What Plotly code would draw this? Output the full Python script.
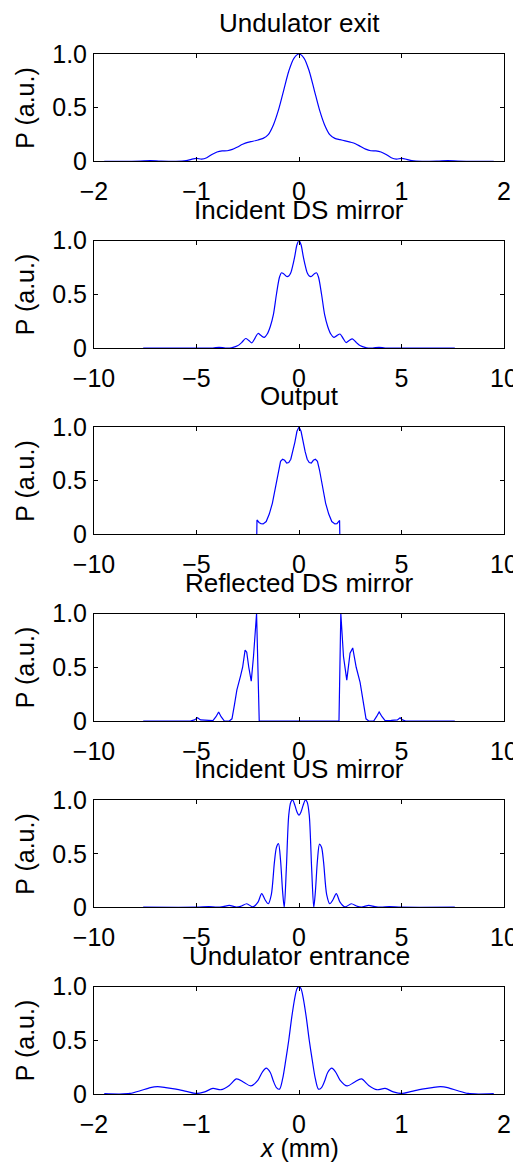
import plotly.graph_objects as go
from plotly.subplots import make_subplots

# panel titles, top to bottom
titles = ['Undulator exit', 'Incident DS mirror', 'Output',
          'Reflected DS mirror', 'Incident US mirror', 'Undulator entrance']

# transverse position x (mm) and normalised power P (a.u.)
exit_x = [-1.9, -1.7, -1.55, -1.45, -1.35, -1.2, -1.1, -1.05, -1.0, -0.95, -0.9, -0.85,
          -0.8, -0.75, -0.7, -0.65, -0.6, -0.55, -0.5, -0.45, -0.4, -0.35, -0.3, -0.25,
          -0.2, -0.15, -0.1, -0.05, 0.0, 0.05, 0.1, 0.15, 0.2, 0.25, 0.3, 0.35, 0.4,
          0.45, 0.5, 0.55, 0.6, 0.65, 0.7, 0.75, 0.8, 0.85, 0.9, 0.95, 1.0, 1.05, 1.1,
          1.2, 1.35, 1.45, 1.55, 1.7, 1.9]
exit_p = [0.0, 0.001, 0.004, 0.007, 0.003, 0.001, 0.008, 0.02, 0.028, 0.022, 0.035, 0.065,
          0.088, 0.098, 0.1, 0.112, 0.135, 0.16, 0.178, 0.188, 0.2, 0.215, 0.25, 0.34,
          0.48, 0.66, 0.84, 0.96, 1.0, 0.96, 0.84, 0.66, 0.48, 0.34, 0.25, 0.215, 0.203,
          0.192, 0.18, 0.165, 0.14, 0.115, 0.1, 0.098, 0.088, 0.065, 0.035, 0.022, 0.028,
          0.02, 0.008, 0.001, 0.003, 0.007, 0.004, 0.001, 0.0]

ds_inc_x = [-7.6, -5.0, -4.2, -3.9, -3.6, -3.3, -3.0, -2.8, -2.6, -2.45, -2.3, -2.15, -2.0,
            -1.85, -1.7, -1.55, -1.4, -1.25, -1.1, -0.95, -0.85, -0.75, -0.6, -0.5, -0.4,
            -0.3, -0.2, -0.1, 0.0, 0.1, 0.2, 0.3, 0.4, 0.5, 0.6, 0.75, 0.85, 0.95, 1.1,
            1.25, 1.4, 1.55, 1.7, 1.85, 2.0, 2.15, 2.3, 2.45, 2.6, 2.8, 3.0, 3.3, 3.6,
            3.9, 4.2, 5.0, 7.6]
ds_inc_p = [0.0, 0.0, 0.0, 0.006, 0.0, 0.002, 0.02, 0.05, 0.088, 0.07, 0.048, 0.09, 0.135,
            0.115, 0.098, 0.13, 0.2, 0.31, 0.5, 0.66, 0.7, 0.69, 0.665, 0.67, 0.7, 0.77,
            0.86, 0.96, 1.0, 0.96, 0.86, 0.77, 0.7, 0.67, 0.665, 0.69, 0.7, 0.66, 0.5,
            0.31, 0.2, 0.13, 0.098, 0.115, 0.13, 0.09, 0.05, 0.07, 0.085, 0.05, 0.02,
            0.002, 0.0, 0.006, 0.0, 0.0, 0.0]

out_x = [-7.6, -2.06, -2.05, -1.95, -1.85, -1.75, -1.6, -1.45, -1.3, -1.15, -1.0, -0.9,
         -0.8, -0.7, -0.6, -0.5, -0.4, -0.3, -0.2, -0.1, 0.0, 0.1, 0.2, 0.3, 0.4, 0.5,
         0.6, 0.7, 0.8, 0.9, 1.0, 1.15, 1.3, 1.45, 1.6, 1.75, 1.85, 1.93, 1.98, 1.99, 7.6]
out_p = [0.0, 0.0, 0.135, 0.112, 0.1, 0.098, 0.12, 0.19, 0.29, 0.45, 0.6, 0.68,
         0.7, 0.69, 0.665, 0.67, 0.7, 0.77, 0.86, 0.96, 1.0, 0.96, 0.86, 0.77, 0.7, 0.67,
         0.665, 0.69, 0.7, 0.68, 0.6, 0.45, 0.29, 0.19, 0.12, 0.098, 0.1, 0.12, 0.13, 0.0, 0.0]

ds_ref_x = [-7.6, -5.3, -5.1, -4.95, -4.8, -4.5, -4.2, -4.05, -3.92, -3.8, -3.65, -3.4,
            -3.27, -3.15, -3.03, -2.85, -2.75, -2.63, -2.55, -2.45, -2.33, -2.22, -2.07,
            -1.94, 1.95, 2.04, 2.17, 2.33, 2.49, 2.62, 2.79, 2.98, 3.14, 3.27, 3.4, 3.65,
            3.78, 3.91, 4.05, 4.2, 4.5, 4.8, 4.93, 5.05, 5.2, 7.6]
ds_ref_p = [0.0, 0.0, 0.01, 0.03, 0.01, 0.005, 0.003, 0.04, 0.084, 0.04, 0.002, 0.0,
            0.02, 0.15, 0.29, 0.42, 0.5, 0.66, 0.64, 0.5, 0.37, 0.6, 1.0,
            0.0, 0.0, 1.0, 0.6, 0.38, 0.63, 0.68, 0.5, 0.36, 0.16, 0.02, 0.0, 0.002,
            0.04, 0.084, 0.04, 0.003, 0.005, 0.01, 0.03, 0.01, 0.0, 0.0]

us_inc_x = [-7.6, -5.0, -4.4, -4.0, -3.7, -3.4, -3.1, -2.85, -2.55, -2.25, -2.0, -1.82,
            -1.65, -1.5, -1.35, -1.2, -1.1, -1.0, -0.9, -0.8, -0.72, -0.62, -0.5, -0.4,
            -0.31, -0.2, -0.1, 0.0, 0.1, 0.2, 0.31, 0.4, 0.5, 0.62, 0.72, 0.8, 0.9, 1.0,
            1.1, 1.2, 1.35, 1.5, 1.65, 1.82, 2.0, 2.25, 2.55, 2.85, 3.1, 3.4, 3.7, 4.0,
            4.4, 5.0, 7.6]
us_inc_p = [0.003, 0.003, 0.008, 0.003, 0.008, 0.02, 0.005, 0.01, 0.035, 0.005, 0.05, 0.13,
            0.07, 0.035, 0.12, 0.42, 0.56, 0.595, 0.44, 0.15, 0.0, 0.35, 0.86, 0.98,
            1.0, 0.95, 0.89, 0.86, 0.89, 0.95, 1.0, 0.98, 0.86, 0.35, 0.0, 0.15, 0.44, 0.59,
            0.56, 0.42, 0.12, 0.035, 0.07, 0.13, 0.05, 0.005, 0.035, 0.01, 0.005, 0.02, 0.008,
            0.003, 0.008, 0.003, 0.003]

entr_x = [-1.9, -1.75, -1.65, -1.55, -1.45, -1.38, -1.3, -1.2, -1.1, -1.0, -0.92, -0.84,
          -0.76, -0.68, -0.61, -0.54, -0.47, -0.4, -0.36, -0.32, -0.28, -0.25, -0.22,
          -0.19, -0.16, -0.13, -0.1, -0.07, -0.04, -0.02, 0.0, 0.02, 0.04, 0.07, 0.1,
          0.13, 0.16, 0.19, 0.22, 0.25, 0.28, 0.32, 0.36, 0.4, 0.47, 0.54, 0.61, 0.68,
          0.76, 0.84, 0.92, 1.0, 1.1, 1.2, 1.3, 1.38, 1.45, 1.55, 1.65, 1.75, 1.9]
entr_p = [0.003, 0.0, 0.005, 0.03, 0.06, 0.068, 0.06, 0.045, 0.025, 0.005, 0.02, 0.052,
          0.04, 0.08, 0.14, 0.11, 0.075, 0.13, 0.2, 0.24, 0.2, 0.12, 0.06,
          0.045, 0.14, 0.31, 0.5, 0.72, 0.9, 0.98, 1.0, 0.98, 0.9, 0.72, 0.5,
          0.31, 0.14, 0.045, 0.06, 0.12, 0.2, 0.24, 0.2, 0.13, 0.075, 0.11, 0.14, 0.08,
          0.04, 0.052, 0.02, 0.005, 0.025, 0.045, 0.06, 0.068, 0.06, 0.03, 0.005, 0.0, 0.003]

xs = [exit_x, ds_inc_x, out_x, ds_ref_x, us_inc_x, entr_x]
ps = [exit_p, ds_inc_p, out_p, ds_ref_p, us_inc_p, entr_p]
shapes = ['spline', 'spline', 'linear', 'linear', 'spline', 'spline']

short_ticks = [-2, -1, 0, 1, 2]
long_ticks = [-10, -5, 0, 5, 10]
x_ticks = [short_ticks, long_ticks, long_ticks, long_ticks, long_ticks, short_ticks]
p_ticks = [0, 0.5, 1]
p_ticktext = ['0', '0.5', '1.0']

FONT = 'Liberation Sans, Arial, sans-serif'

fig = make_subplots(rows=6, cols=1, vertical_spacing=0.076)

for i in range(6):
    row = i + 1
    fig.add_trace(go.Scatter(
        x=xs[i], y=ps[i], mode='lines',
        line=dict(color='#0000ff', width=1.2, shape=shapes[i], smoothing=0.8),
        showlegend=False,
    ), row=row, col=1)
    ticks = x_ticks[i]
    fig.update_xaxes(
        range=[ticks[0], ticks[-1]],
        tickvals=ticks,
        ticktext=[str(t).replace('-', '\u2212') for t in ticks],
        row=row, col=1,
    )
    fig.update_yaxes(range=[0, 1], tickvals=p_ticks, ticktext=p_ticktext, row=row, col=1)

    yref = 'y%s domain' % ('' if row == 1 else row)
    fig.add_annotation(
        text=titles[i], xref='paper', x=0.5, yref=yref,
        y=1, yanchor='bottom', yshift=14, showarrow=False,
        font=dict(family=FONT, size=26, color='black'),
    )
    fig.add_annotation(
        text='P (a.u.)', xref='paper', x=0, xanchor='center', xshift=-69,
        yref=yref, y=0.5, yanchor='middle',
        textangle=-90, showarrow=False,
        font=dict(family=FONT, size=25, color='black'),
    )

fig.add_annotation(
    text='<i>x</i> (mm)', xref='paper', x=0.5, yref='y6 domain', y=0,
    yanchor='middle', yshift=-54, showarrow=False,
    font=dict(family=FONT, size=25, color='black'),
)

axis_style = dict(
    showline=True, linecolor='black', linewidth=1, mirror='ticks',
    ticks='inside', ticklen=4, tickwidth=1, tickcolor='black',
    showgrid=False, zeroline=False, automargin=False,
    tickfont=dict(family=FONT, size=25, color='black'),
)
fig.update_xaxes(ticklabelstandoff=8, **axis_style)
fig.update_yaxes(ticklabelstandoff=1, **axis_style)

# the page body adds an 8 px margin, so the figure is shifted up/left by 8 px
fig.update_layout(
    width=513, height=1154,
    margin=dict(l=86, r=17, t=46, b=68),
    plot_bgcolor='white', paper_bgcolor='white',
    font=dict(family=FONT, color='black'),
    showlegend=False,
)

fig.write_html("out.html")
